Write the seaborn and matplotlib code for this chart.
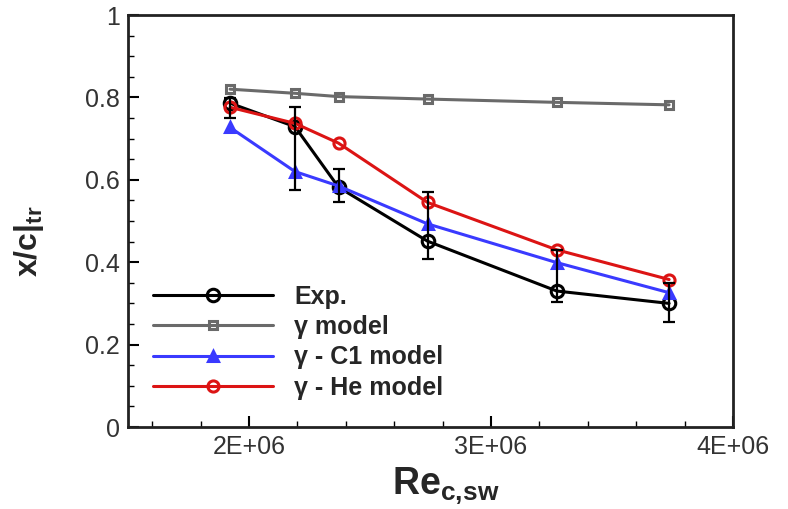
import numpy as np
import pandas as pd
import matplotlib
matplotlib.use("Agg")
import matplotlib.pyplot as plt
from matplotlib.ticker import MultipleLocator, FuncFormatter
import seaborn as sns

# ---- data ----
re_values = [1.922e6, 2.19e6, 2.37e6, 2.738e6, 3.272e6, 3.736e6]
exp_vals = [0.786, 0.729, 0.582, 0.451, 0.330, 0.300]
exp_err_low = [0.035, 0.154, 0.035, 0.043, 0.026, 0.044]
exp_err_high = [0.012, 0.047, 0.044, 0.120, 0.100, 0.050]
gamma_vals = [0.820, 0.810, 0.802, 0.796, 0.788, 0.782]
c1_vals = [0.727, 0.620, 0.585, 0.493, 0.399, 0.326]
he_vals = [0.776, 0.737, 0.689, 0.545, 0.430, 0.358]
labels = ["Exp.", "γ model", "γ - C1 model", "γ - He model"]
x_ticks = [2e6, 3e6, 4e6]
y_ticks = [0, 0.2, 0.4, 0.6, 0.8, 1.0]

sns.set_theme(style="ticks")
plt.rcParams["font.family"] = ["Liberation Sans", "DejaVu Sans"]
plt.rcParams["mathtext.fontset"] = "custom"
plt.rcParams["mathtext.rm"] = "Liberation Sans"
plt.rcParams["mathtext.bf"] = "Liberation Sans:bold"
plt.rcParams["mathtext.it"] = "Liberation Sans:italic"

fig = plt.figure(figsize=(7.88, 5.09), dpi=100)
ax = fig.add_axes([0.1624, 0.1611, 0.9302 - 0.1624, 0.9705 - 0.1611])

styles = [
    (exp_vals, "black", "o", 9, "none", 2.2),
    (gamma_vals, "#6a6a6a", "s", 6, "none", 2.2),
    (c1_vals, "#3a3aff", "^", 7, "#3a3aff", 2.2),
    (he_vals, "#dc1414", "o", 8, "none", 2.2),
]
order = [1, 0, 2, 3]
for i in order:
    vals, col, mk, ms, mfc, lw = styles[i]
    sns.lineplot(x=re_values, y=vals, ax=ax, color=col, marker=mk,
                 markersize=ms, markerfacecolor=mfc, markeredgecolor=col,
                 markeredgewidth=2.2, linewidth=lw, label=labels[i],
                 zorder=3 + i)

ax.errorbar(re_values, exp_vals, yerr=[exp_err_low, exp_err_high], fmt="none",
            ecolor="black", elinewidth=1.6, capsize=4.5, capthick=1.6, zorder=10)

ax.set_xlim(1.5e6, 4.0e6)
ax.set_ylim(0, 1)
ax.set_xticks(x_ticks)
ax.set_yticks(y_ticks)
ax.xaxis.set_minor_locator(MultipleLocator(0.2e6))
ax.yaxis.set_minor_locator(MultipleLocator(0.05))
ax.xaxis.set_major_formatter(FuncFormatter(lambda v, p: f"{v:.0E}"))
ax.yaxis.set_major_formatter(FuncFormatter(lambda v, p: f"{v:g}"))
ax.tick_params(which="both", direction="in", colors="black", labelcolor="#333333",
               labelsize=18, top=False, right=False)
ax.tick_params(which="major", length=8, width=1.5, pad=6)
ax.tick_params(which="minor", length=4, width=1.0)
for s in ax.spines.values():
    s.set_visible(True)
    s.set_linewidth(2.0)
    s.set_color("#222222")

ax.set_xlabel(r"$\mathbf{Re}_{\mathbf{c,\!sw}}$", fontsize=27, labelpad=6)
ax.xaxis.set_label_coords(0.525, -0.095, transform=ax.transAxes)
ax.xaxis.label.set_va("top")
ax.set_ylabel(r"$\mathbf{x/c|_{tr}}$", fontsize=23)
ax.yaxis.set_label_coords(-0.135, 0.45, transform=ax.transAxes)

handles, labs = ax.get_legend_handles_labels()
hmap = dict(zip(labs, handles))
leg = ax.legend([hmap[l] for l in labels], labels, loc="lower left",
                bbox_to_anchor=(0.008, 0.018), frameon=False,
                prop={"weight": "bold", "size": 18}, handlelength=4.8,
                handletextpad=0.85, labelspacing=0.25, borderpad=0.3)

fig.savefig("out.png", dpi=100)
